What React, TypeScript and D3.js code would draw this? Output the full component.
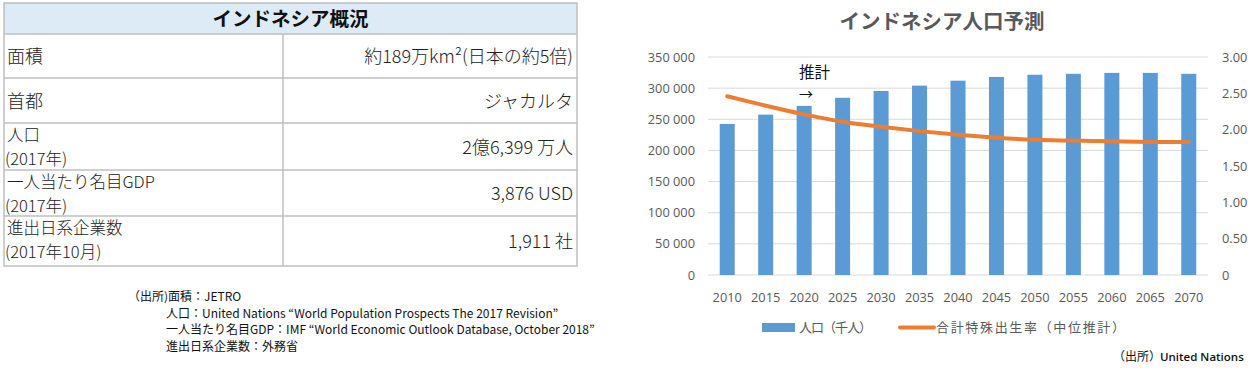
import React from "react";
import * as d3 from "d3";

const years = ["2010","2015","2020","2025","2030","2035","2040","2045","2050","2055","2060","2065","2070"];
const population = [242500, 257500, 271500, 284500, 295500, 304000, 312000, 318000, 321500, 323000, 324500, 324500, 323000];
const fertility = [2.46, 2.33, 2.21, 2.11, 2.04, 1.98, 1.93, 1.89, 1.86, 1.85, 1.84, 1.83, 1.83];
const leftTicks = [0, 50000, 100000, 150000, 200000, 250000, 300000, 350000];
const rightTicks = [0, 0.5, 1.0, 1.5, 2.0, 2.5, 3.0];

const tableTitle = "インドネシア概況";
const tableLabels = [["面積"], ["首都"], ["人口", "(2017年)"], ["一人当たり名目GDP", "(2017年)"], ["進出日系企業数", "(2017年10月)"]];
const tableValues = ["約189万km²(日本の約5倍)", "ジャカルタ", "2億6,399 万人", "3,876 USD", "1,911 社"];
const footnotes = [
  "（出所)面積：JETRO",
  "人口：United Nations  “World Population Prospects The 2017 Revision”",
  "一人当たり名目GDP：IMF “World Economic Outlook Database, October 2018”",
  "進出日系企業数：外務省",
];

const CJK = "'Noto Sans CJK JP', 'Noto Sans', sans-serif";
const NUM = "'Open Sans', 'Noto Sans', sans-serif";

export default function App() {
  const x = d3.scaleBand<string>().domain(years).range([708, 1208]).paddingInner(0.61).paddingOuter(0.305);
  const yL = d3.scaleLinear().domain([0, 350000]).range([275, 57]);
  const yR = d3.scaleLinear().domain([0, 3]).range([275, 57]);
  const line = d3.line<number>()
    .x((_, i) => (x(years[i]) as number) + x.bandwidth() / 2)
    .y((d) => yR(d))
    .curve(d3.curveCatmullRom.alpha(0.5));
  const fmtL = (v: number) => (v === 0 ? "0" : d3.format(",")(v).replace(/,/g, " "));
  const fmtR = (v: number) => (v === 0 ? "0" : d3.format(".2f")(v));

  const rowTops = [34, 78, 123, 170, 216];
  const rowBottoms = [78, 123, 170, 216, 266];
  const tLeft = 4, tRight = 577, tSplit = 283;

  return (
    <svg width={1259} height={376} style={{ position: "absolute", left: 0, top: 0 }}>
      <rect x={0} y={0} width={1259} height={376} fill="#fff" />
      {/* Table */}
      <rect x={tLeft} y={3} width={tRight - tLeft} height={31} fill="#DDEBF7" />
      <text x={(tLeft + tRight) / 2} y={25.5} textAnchor="middle" fontFamily={CJK} fontWeight={700} fontSize={19.5} fill="#111">{tableTitle}</text>
      {tableLabels.map((lab, i) => {
        const top = rowTops[i], bot = rowBottoms[i];
        const mid = (top + bot) / 2;
        return (
          <g key={i}>
            {lab.length === 1 ? (
              <text x={7} y={mid + 7} fontFamily={CJK} fontWeight={300} fontSize={18} fill="#222">{lab[0]}</text>
            ) : (
              <>
                <text x={7} y={top + 18} fontFamily={CJK} fontWeight={300} fontSize={16.5} fill="#222">{lab[0]}</text>
                <text x={5} y={top + 42} fontFamily={CJK} fontWeight={300} fontSize={16.5} fill="#222">{lab[1]}</text>
              </>
            )}
            <text x={573} y={mid + 7} textAnchor="end" fontFamily={CJK} fontWeight={300} fontSize={18} fill="#222">{tableValues[i]}</text>
          </g>
        );
      })}
      <g stroke="#BFBFBF" strokeWidth={1.5} fill="none">
        <rect x={tLeft} y={3} width={tRight - tLeft} height={263} />
        <line x1={tLeft} x2={tRight} y1={34} y2={34} />
        {rowBottoms.slice(0, 4).map((b, i) => <line key={i} x1={tLeft} x2={tRight} y1={b} y2={b} />)}
        <line x1={tSplit} x2={tSplit} y1={34} y2={266} />
      </g>
      {footnotes.map((t, i) => (
        <text key={i} x={i === 0 ? 128 : 166} y={301 + i * 16.7} fontFamily={CJK} fontSize={12} fill="#111">{t}</text>
      ))}

      {/* Chart */}
      <text x={942} y={29} textAnchor="middle" fontFamily={CJK} fontWeight={700} fontSize={20.5} fill="#595959">インドネシア人口予測</text>
      <g stroke="#D9D9D9" strokeWidth={1}>
        {leftTicks.map((t) => <line key={t} x1={708} x2={1208} y1={yL(t)} y2={yL(t)} />)}
      </g>
      {leftTicks.map((t) => (
        <text key={t} x={695} y={yL(t) + 4.5} textAnchor="end" fontFamily={NUM} fontSize={12.8} fill="#595959">{fmtL(t)}</text>
      ))}
      {rightTicks.map((t) => (
        <text key={t} x={1222} y={yR(t) + 4.5} textAnchor="start" fontFamily={NUM} fontSize={12.8} fill="#595959">{fmtR(t)}</text>
      ))}
      {population.map((v, i) => (
        <rect key={years[i]} x={x(years[i])} y={yL(v)} width={x.bandwidth()} height={yL(0) - yL(v)} fill="#5B9BD5" />
      ))}
      <path d={line(fertility) || ""} fill="none" stroke="#ED7D31" strokeWidth={4} strokeLinecap="round" />
      {years.map((yv) => (
        <text key={yv} x={(x(yv) as number) + x.bandwidth() / 2} y={302} textAnchor="middle" fontFamily={NUM} fontSize={12.8} fill="#595959">{yv}</text>
      ))}
      <text x={799} y={78} fontFamily={CJK} fontSize={15.5} fill="#111">推計</text>
      <text x={799} y={99} fontFamily={CJK} fontSize={14} fill="#111">→</text>

      {/* Legend */}
      <rect x={762} y={323} width={33} height={9} fill="#5B9BD5" />
      <text x={799} y={332} fontFamily={CJK} fontSize={13} fill="#595959" textLength={73} lengthAdjust="spacing">人口（千人）</text>
      <line x1={900} x2={934} y1={327.5} y2={327.5} stroke="#ED7D31" strokeWidth={4} strokeLinecap="round" />
      <text x={936} y={332} fontFamily={CJK} fontSize={13} fill="#595959" textLength={189} lengthAdjust="spacing">合計特殊出生率（中位推計）</text>
      <text x={1113} y={361} fontFamily={CJK} fontSize={12} fill="#111">（出所）</text>
      <text x={1160} y={361} fontFamily={NUM} fontSize={11.5} fontWeight={600} fill="#111">United Nations</text>
    </svg>
  );
}
